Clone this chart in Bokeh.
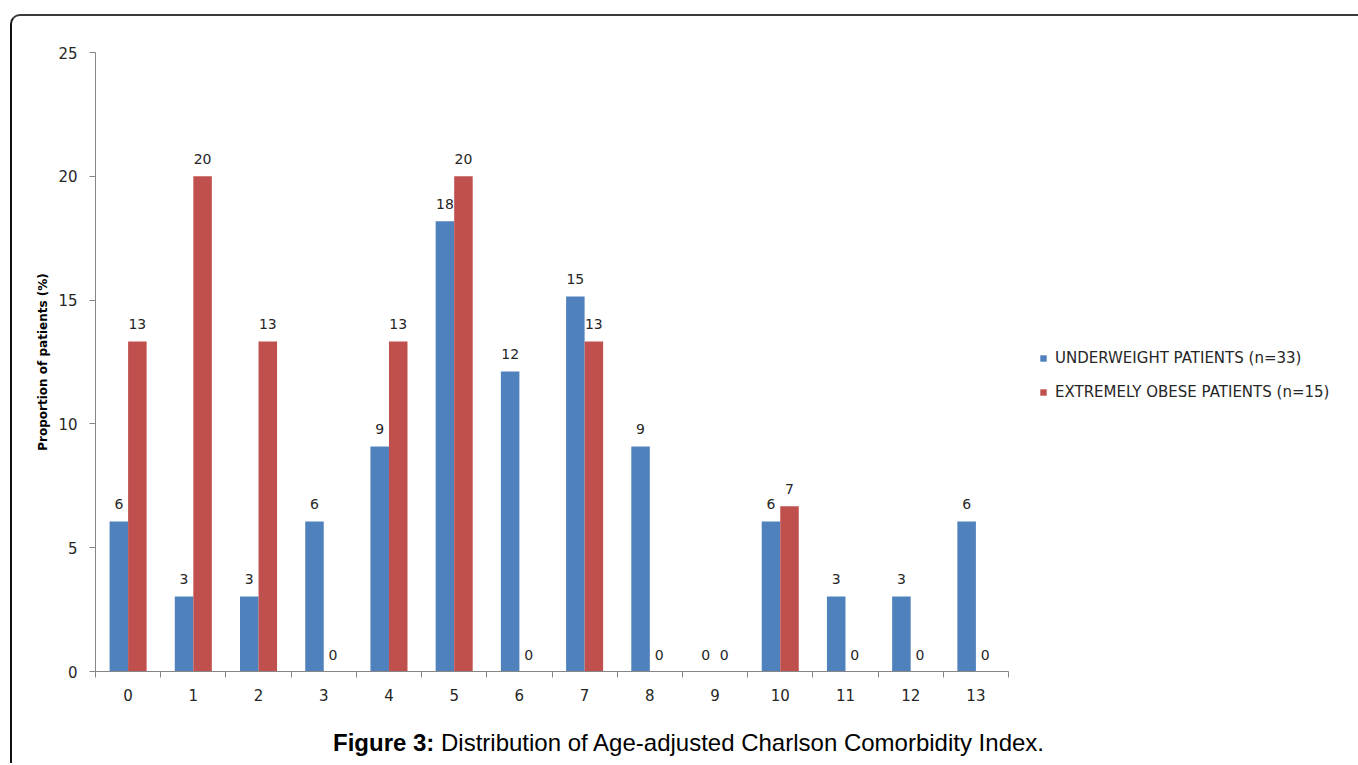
from bokeh.plotting import figure
from bokeh.models import (Range1d, FixedTicker, LabelSet, ColumnDataSource, Legend,
                          LegendItem, Div)
from bokeh.layouts import column
from bokeh.core.properties import value
from bokeh.embed import file_html
from bokeh.resources import INLINE

categories = [str(i) for i in range(14)]
underweight = [6.06, 3.03, 3.03, 6.06, 9.09, 18.18, 12.12, 15.15, 9.09, 0, 6.06, 3.03, 3.03, 6.06]
obese = [13.33, 20, 13.33, 0, 13.33, 20, 0, 13.33, 0, 0, 6.67, 0, 0, 0]
series_names = ["UNDERWEIGHT PATIENTS (n=33)", "EXTREMELY OBESE PATIENTS (n=15)"]
y_ticks = [0, 5, 10, 15, 20, 25]
caption_bold = "Figure 3:"
caption_text = "Distribution of Age-adjusted Charlson Comorbidity Index."
y_label = "Proportion of patients (%)"

BLUE = "#4F81BD"
RED = "#C0504D"
AXIS = "#868686"
FONT = "DejaVu Sans"
TXT = "#262626"

n = len(categories)
bw = 0.284
centers = [i + 0.5 for i in range(n)]
x_blue = [c - bw / 2 for c in centers]
x_red = [c + bw / 2 for c in centers]

src_b = ColumnDataSource(dict(x=x_blue, top=underweight, lab=[str(int(round(v))) for v in underweight]))
src_r = ColumnDataSource(dict(x=x_red, top=obese, lab=[str(int(round(v))) for v in obese]))

W = 1346
PH = 699
LEFT = 83
AXIS_W = 913                 # pixel length of the category axis
FRAME_W = W - LEFT           # frame runs to the right edge so the legend is not clipped
x_max = n * FRAME_W / AXIS_W

p = figure(width=W, height=PH, output_backend="svg", toolbar_location=None,
           x_range=Range1d(0, x_max), y_range=Range1d(0, 25),
           min_border_left=LEFT, min_border_right=0, min_border_top=36,
           min_border_bottom=PH - 36 - 619)
p.outline_line_color = None
p.xgrid.visible = False
p.ygrid.visible = False
p.border_fill_color = None
p.background_fill_color = None

rb = p.vbar(x="x", top="top", width=bw, bottom=0, source=src_b, fill_color=BLUE, line_color=None)
rr = p.vbar(x="x", top="top", width=bw, bottom=0, source=src_r, fill_color=RED, line_color=None)

for s in (src_b, src_r):
    p.add_layout(LabelSet(x="x", y="top", text="lab", source=s, text_align="center",
                          text_baseline="alphabetic", y_offset=12, text_font=value(FONT),
                          text_font_size=value("14px"), text_color=TXT))

xa = p.xaxis[0]
xa.bounds = (0, n)
xa.ticker = FixedTicker(ticks=centers, minor_ticks=list(range(n + 1)))
xa.major_label_overrides = {c: categories[i] for i, c in enumerate(centers)}
xa.major_tick_line_color = None
xa.minor_tick_in = 0
xa.minor_tick_out = 6
xa.minor_tick_line_color = AXIS
xa.axis_line_color = AXIS
xa.major_label_standoff = 11
xa.major_label_text_font = FONT
xa.major_label_text_font_size = "15px"
xa.major_label_text_color = TXT

ya = p.yaxis[0]
ya.ticker = FixedTicker(ticks=y_ticks)
ya.minor_tick_line_color = None
ya.major_tick_in = 0
ya.major_tick_out = 6
ya.major_tick_line_color = AXIS
ya.axis_line_color = AXIS
ya.major_label_standoff = 12
ya.major_label_text_font = FONT
ya.major_label_text_font_size = "15px"
ya.major_label_text_color = TXT
ya.axis_label = y_label
ya.axis_label_text_font = FONT
ya.axis_label_text_font_style = "bold"
ya.axis_label_text_font_size = "12px"
ya.axis_label_text_color = "#000000"
ya.axis_label_standoff = 5

legend = Legend(items=[LegendItem(label=series_names[0], renderers=[rb]),
                       LegendItem(label=series_names[1], renderers=[rr])],
                location=(944, 269), glyph_width=8, glyph_height=8, label_height=20,
                spacing=14, padding=0, margin=0, border_line_color=None,
                background_fill_alpha=0, label_text_font=FONT, label_text_font_size="15px",
                label_text_color=TXT, label_standoff=8)
p.add_layout(legend)

caption = Div(text=f"<b>{caption_bold}</b> {caption_text}", width=W, height=48, margin=0,
              styles={"font-family": "'Liberation Sans', Arial, sans-serif",
                      "font-size": "24px", "line-height": "24px", "color": "#000000",
                      "padding-left": "321px", "padding-top": "16px",
                      "white-space": "nowrap", "box-sizing": "border-box"})

layout = column(p, caption, spacing=0, margin=(14, 0, 0, 10),
                styles={"border-top": "2px solid #3a3a3a", "border-left": "2px solid #111111",
                        "border-top-left-radius": "10px"})

open("out.html", "w").write(file_html(layout, INLINE))
